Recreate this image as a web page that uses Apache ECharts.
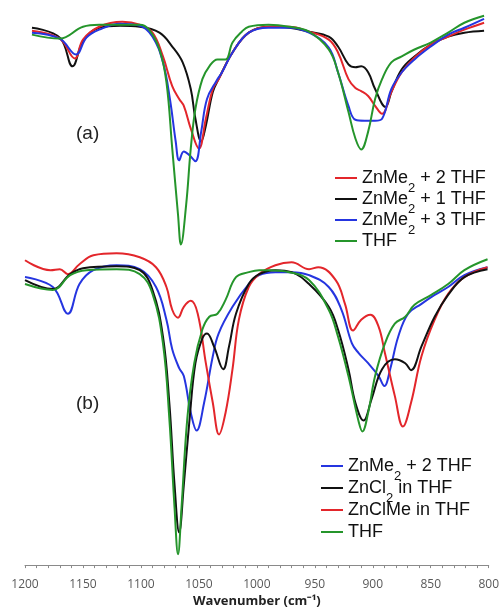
<!DOCTYPE html>
<html>
<head>
<meta charset="utf-8">
<script src="https://cdn.jsdelivr.net/npm/echarts@6/dist/echarts.min.js"></script>
<style>
  html, body { margin: 0; padding: 0; background: #fff; }
  #chart { width: 502px; height: 613px; }
</style>
</head>
<body>
<div id="chart"></div>
<script>
// x: wavenumber (cm-1), y: transmittance, arbitrary units (panel a offset above panel b)
const xTicks = [1200, 1150, 1100, 1050, 1000, 950, 900, 850, 800];

// panel (a)
const aZnMe2THF2 = [
  [1194, 540], [1170, 532], [1157, 512], [1150, 531], [1136, 544], [1116, 549], [1101, 546],
  [1090, 538], [1081, 514], [1073, 484], [1067, 471], [1063, 464], [1057, 441], [1050, 421],
  [1044, 451], [1038, 481], [1033, 491], [1021, 518], [1007, 538], [990, 544], [972, 544],
  [955, 539], [938, 531], [930, 518], [921, 491], [915, 482], [910, 479], [904, 474],
  [898, 464], [892, 456], [884, 478], [875, 498], [864, 513], [850, 526], [835, 534],
  [821, 541], [804, 548]
];
const aZnMe2THF1 = [
  [1194, 543], [1170, 533], [1159, 504], [1150, 529], [1136, 543], [1118, 545], [1101, 544],
  [1084, 538], [1073, 524], [1064, 508], [1057, 481], [1053, 451], [1048, 428], [1044, 444],
  [1038, 478], [1033, 491], [1021, 518], [1007, 538], [990, 544], [972, 543], [955, 539],
  [938, 534], [930, 524], [921, 506], [915, 503], [910, 504], [904, 498], [898, 481],
  [889, 463], [884, 478], [875, 501], [864, 514], [850, 526], [835, 534], [821, 538],
  [804, 540]
];
const aZnMe2THF3 = [
  [1194, 538], [1170, 532], [1156, 516], [1147, 533], [1136, 541], [1118, 547], [1101, 545],
  [1090, 534], [1081, 508], [1075, 471], [1070, 428], [1067, 409], [1063, 418], [1058, 414],
  [1053, 408], [1048, 438], [1043, 471], [1035, 489], [1030, 498], [1021, 518], [1007, 538],
  [990, 543], [972, 543], [955, 538], [938, 523], [930, 498], [921, 464], [915, 450],
  [907, 449], [898, 449], [892, 451], [884, 481], [875, 498], [864, 511], [850, 524],
  [835, 536], [821, 543], [804, 552]
];
const aTHF = [
  [1194, 536], [1170, 532], [1150, 544], [1136, 546], [1101, 546], [1093, 541], [1084, 521],
  [1078, 488], [1073, 421], [1068, 354], [1065.5, 324], [1061, 364], [1057, 421], [1053, 461],
  [1047, 491], [1041, 504], [1034, 511], [1027, 511], [1021, 528], [1013, 539], [1007, 544],
  [990, 546], [972, 544], [955, 539], [938, 521], [930, 498], [921, 458], [915, 431],
  [910, 420], [904, 438], [898, 471], [892, 491], [884, 508], [875, 514], [864, 521],
  [850, 528], [835, 538], [821, 548], [804, 555]
];

// panel (b)
const bZnMe2THF2 = [
  [1200, 291], [1176, 281], [1163, 254], [1153, 284], [1141, 298], [1121, 303], [1101, 299],
  [1087, 281], [1078, 248], [1073, 218], [1067, 199], [1063, 191], [1057, 154], [1052, 136],
  [1045.5, 164], [1038, 211], [1033, 234], [1021, 261], [1007, 284], [998, 293], [984, 296],
  [970, 296], [955, 293], [938, 281], [927, 258], [918, 224], [912, 214], [904, 204],
  [895, 191], [890, 181], [885, 198], [878, 231], [869.5, 254], [858, 264], [846.6, 273],
  [835, 281], [821, 293], [801, 301]
];
const bZnCl2 = [
  [1200, 288], [1176, 279], [1161, 294], [1150, 300], [1121, 302], [1101, 298], [1090, 278],
  [1081, 231], [1075.5, 164], [1071, 81], [1067, 33], [1063, 81], [1058, 148], [1053, 204],
  [1047, 229], [1043, 234], [1037, 221], [1029, 198], [1024, 221], [1018, 254], [1007, 284],
  [998, 294], [984, 298], [970, 296], [955, 284], [938, 261], [930, 238], [921, 198],
  [915, 164], [908, 146], [901, 168], [892, 198], [881, 208], [872, 204], [867, 197],
  [858, 221], [846.6, 251], [835, 273], [821, 291], [801, 299]
];
const bZnClMe = [
  [1200, 308], [1178, 298], [1170, 299], [1163, 294], [1153, 304], [1141, 313], [1121, 315],
  [1101, 311], [1087, 301], [1078, 281], [1073, 258], [1068, 250], [1063, 261], [1057, 267],
  [1051, 254], [1044, 204], [1038, 164], [1032.6, 132], [1027, 154], [1021, 198], [1015.5, 248],
  [1007, 281], [998, 294], [984, 303], [970, 306], [955, 299], [947, 301], [932, 288],
  [924, 264], [917, 237], [910, 248], [902, 253], [895, 241], [889.5, 214], [881, 171],
  [874, 140], [867, 164], [858, 211], [846.6, 248], [835, 274], [821, 291], [801, 301]
];
const bTHF = [
  [1200, 284], [1176, 278], [1161, 293], [1147, 298], [1121, 299], [1101, 294], [1090, 274],
  [1081, 224], [1075.5, 148], [1071, 58], [1068, 11], [1065, 58], [1060, 148], [1054, 204],
  [1047, 238], [1041, 251], [1034, 254], [1027, 268], [1018, 291], [1007, 296], [998, 298],
  [990, 298], [972, 296], [955, 288], [938, 258], [930, 231], [921, 191], [912, 144],
  [909, 135], [904, 154], [898, 191], [889.5, 224], [881, 244], [872, 251], [864, 263],
  [849.5, 273], [835, 284], [821, 298], [801, 309]
];

const RED = "#e3262b";
const BLACK = "#111111";
const BLUE = "#2535e0";
const GREEN = "#25952b";
const FONT = "Liberation Sans, DejaVu Sans, sans-serif";

function curve(name, data, color) {
  return {
    name: name,
    type: "line",
    data: data,
    smooth: 0.4,
    showSymbol: false,
    lineStyle: { width: 2, color: color },
    itemStyle: { color: color },
    animation: false
  };
}

// subscript 2 drawn as a rich text token below the baseline
const legendText = {
  fontSize: 18,
  lineHeight: 34,
  color: "#111",
  fontFamily: FONT,
  rich: {
    s: { fontSize: 13, lineHeight: 13, verticalAlign: "bottom", color: "#111", fontFamily: FONT }
  }
};
const legendFormatter = (n) => n.trim().replace("\u2082", "{s|2}");

const chart = echarts.init(document.getElementById("chart"));
chart.setOption({
  backgroundColor: "#fff",
  animation: false,
  grid: { left: 25, right: 11, top: 0, bottom: 42 },
  xAxis: {
    type: "value",
    min: 800,
    max: 1200,
    interval: 50,
    inverse: true,
    name: "Wavenumber (cm\u207B\u00B9)",
    nameLocation: "middle",
    nameGap: 27,
    nameTextStyle: { fontSize: 13, fontWeight: "bold", color: "#222", fontFamily: "Open Sans" },
    axisLine: { lineStyle: { color: "#8a8a8a", width: 1 } },
    axisTick: { show: true, length: 3, lineStyle: { color: "#8a8a8a" } },
    minorTick: { show: true, splitNumber: 5, length: 3, lineStyle: { color: "#8a8a8a" } },
    splitLine: { show: false },
    axisLabel: {
      color: "#595959",
      fontSize: 12,
      fontFamily: "Open Sans",
      margin: 13,
      formatter: (v) => (xTicks.includes(v) ? String(v) : "")
    }
  },
  yAxis: { type: "value", min: 0, max: 571, show: false },
  legend: [
    {
      orient: "vertical",
      left: 330,
      top: 156,
      itemWidth: 22,
      itemHeight: 2,
      itemGap: -13,
      icon: "rect",
      textStyle: legendText,
      selectedMode: false,
      formatter: legendFormatter,
      data: ["ZnMe\u2082 + 2 THF", "ZnMe\u2082 + 1 THF", "ZnMe\u2082 + 3 THF", "THF"]
    },
    {
      orient: "vertical",
      left: 316,
      top: 444,
      itemWidth: 22,
      itemHeight: 2,
      itemGap: -12,
      icon: "rect",
      textStyle: legendText,
      selectedMode: false,
      formatter: legendFormatter,
      data: ["ZnMe\u2082 + 2 THF ", "ZnCl\u2082 in THF", "ZnClMe in THF", "THF "]
    }
  ],
  graphic: [
    { type: "text", left: 76, top: 124, style: { text: "(a)", fill: "#222", font: "19px Liberation Sans" } },
    { type: "text", left: 76, top: 394, style: { text: "(b)", fill: "#222", font: "19px Liberation Sans" } }
  ],
  series: [
    curve("ZnMe\u2082 + 1 THF", aZnMe2THF1, BLACK),
    curve("ZnMe\u2082 + 2 THF", aZnMe2THF2, RED),
    curve("ZnMe\u2082 + 3 THF", aZnMe2THF3, BLUE),
    curve("THF", aTHF, GREEN),
    curve("ZnMe\u2082 + 2 THF ", bZnMe2THF2, BLUE),
    curve("ZnClMe in THF", bZnClMe, RED),
    curve("ZnCl\u2082 in THF", bZnCl2, BLACK),
    curve("THF ", bTHF, GREEN)
  ]
});
</script>
</body>
</html>
